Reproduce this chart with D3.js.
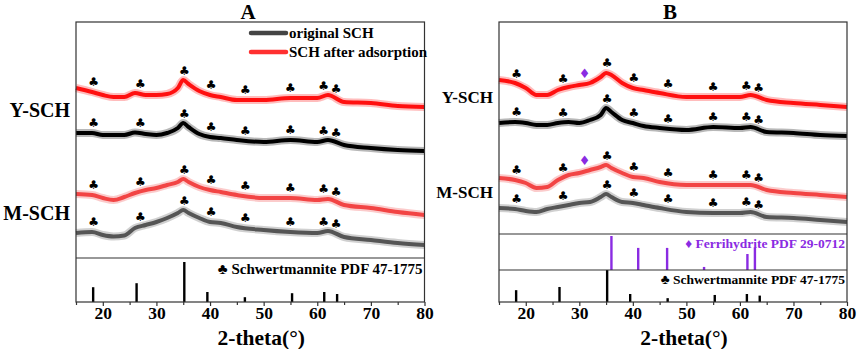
<!DOCTYPE html>
<html>
<head>
<meta charset="utf-8">
<script src="https://cdn.jsdelivr.net/npm/d3@7"></script>
<style>
  body { margin: 0; background: #fff; }
  svg text { font-family: "Liberation Serif", "Times New Roman", serif; font-weight: bold; }
</style>
</head>
<body>
<div id="container"></div>
<script>
let w = 858;
let h = 349;

// 2-theta sample points
const twoTheta = [15, 18, 20, 22, 24, 26, 28, 30, 32, 34, 35, 36, 38, 40, 42, 45, 50, 55, 60, 62, 65, 70, 75, 80];

// panel A intensities (a.u., offset stacked)
const aYAfter = [1700, 1660, 1630, 1610, 1610, 1650, 1630, 1630, 1640, 1700, 1780, 1740, 1670, 1630, 1610, 1580, 1580, 1600, 1600, 1630, 1560, 1550, 1520, 1510];
const aYOrig  = [1250, 1250, 1230, 1230, 1230, 1255, 1240, 1230, 1250, 1300, 1350, 1310, 1240, 1210, 1200, 1180, 1160, 1180, 1160, 1180, 1130, 1100, 1080, 1070];
const aMAfter = [640, 630, 600, 580, 610, 650, 680, 700, 730, 760, 790, 760, 710, 680, 660, 630, 600, 600, 580, 590, 530, 500, 460, 430];
const aMOrig  = [250, 260, 230, 215, 225, 300, 330, 360, 400, 450, 480, 450, 400, 360, 350, 310, 280, 260, 250, 270, 210, 180, 150, 130];

// panel B intensities
const bYAfter = [1540, 1510, 1460, 1390, 1390, 1440, 1470, 1490, 1510, 1570, 1610, 1590, 1510, 1460, 1440, 1410, 1370, 1370, 1370, 1390, 1340, 1310, 1290, 1270];
const bYOrig  = [1110, 1120, 1110, 1090, 1090, 1110, 1120, 1110, 1140, 1190, 1260, 1220, 1140, 1110, 1080, 1060, 1040, 1070, 1060, 1070, 1020, 1010, 990, 980];
const bMAfter = [560, 540, 510, 460, 470, 540, 590, 610, 640, 670, 690, 660, 610, 570, 560, 520, 490, 490, 490, 490, 440, 410, 390, 370];
const bMOrig  = [260, 250, 230, 220, 250, 270, 290, 310, 320, 370, 400, 370, 320, 310, 290, 260, 220, 210, 210, 220, 170, 160, 140, 120];

// reference patterns
const schPeaks = [18.2, 26.3, 35.2, 39.5, 46.5, 55.3, 61.3, 63.7];
const schRel   = [37, 47, 100, 25, 12, 22, 25, 20];
const ferPeaks = [36.0, 41.0, 46.4, 53.3, 61.4, 62.8];
const ferRel   = [100, 65, 65, 9, 47, 65];

// marker positions on the patterns
const clubPos = [18.3, 27.0, 35.2, 40.2, 46.6, 55.0, 61.2, 63.5];
const diamondPos = [31.0];

const majorTicks = [20, 30, 40, 50, 60, 70, 80];
const minorTicks = [15, 25, 35, 45, 55, 65, 75];
const sampleNames = ["Y-SCH", "M-SCH"];
const legendNames = ["original SCH", "SCH after adsorption"];
const schLabel = "\u2663 Schwertmannite PDF 47-1775";
const ferLabel = "\u2666 Ferrihydrite PDF 29-0712";

let purple = "#8a2be2";

let viz = d3.select("#container")
  .append("svg")
  .attr("width", w)
  .attr("height", h)
  .style("background-color", "white");

function interp(xs, ys, x){
  let i = d3.bisectRight(xs, x);
  if(i <= 0) return ys[0];
  if(i >= xs.length) return ys[ys.length - 1];
  let t = (x - xs[i-1]) / (xs[i] - xs[i-1]);
  return ys[i-1] + t * (ys[i] - ys[i-1]);
}

function drawPanel(p){
  let g = viz.append("g").attr("class", "panel");
  let xScale = d3.scaleLinear().domain([15, 80]).range([p.left, p.right]);
  let yScale = d3.scaleLinear().domain([0, (p.patBottom - p.top) * 10]).range([p.patBottom, p.top]);

  let line = d3.line()
    .x((d, i) => xScale(twoTheta[i]))
    .y(d => yScale(d))
    .curve(d3.curveMonotoneX);

  // traces: fuzzy band + core line
  p.series.forEach(function(s){
    g.append("path").attr("d", line(s.values))
      .attr("fill", "none").attr("stroke", s.color)
      .attr("stroke-width", 8).attr("stroke-opacity", 0.28);
    g.append("path").attr("d", line(s.values))
      .attr("fill", "none").attr("stroke", s.color)
      .attr("stroke-width", 4).attr("stroke-linejoin", "round");

    clubPos.forEach(function(c){
      g.append("text")
        .attr("x", xScale(c))
        .attr("y", yScale(interp(twoTheta, s.values, c)) - 10)
        .attr("text-anchor", "middle")
        .attr("dominant-baseline", "central")
        .style("font-family", "DejaVu Sans")
        .style("font-size", "12px")
        .attr("fill", "#000")
        .text("\u2663");
    });
    if(s.diamond){
      diamondPos.forEach(function(c){
        g.append("text")
          .attr("x", xScale(c))
          .attr("y", yScale(interp(twoTheta, s.values, c)) - 11)
          .attr("text-anchor", "middle")
          .attr("dominant-baseline", "central")
          .style("font-family", "DejaVu Sans")
          .style("font-size", "13px")
          .attr("fill", purple)
          .text("\u2666");
      });
    }
  });

  // stick patterns
  p.sticks.forEach(function(st){
    let sy = d3.scaleLinear().domain([0, 100]).range([st.base, st.top]);
    g.selectAll(null).data(st.pos).enter().append("line")
      .attr("x1", d => xScale(d)).attr("x2", d => xScale(d))
      .attr("y1", sy(0)).attr("y2", (d, i) => sy(st.rel[i]))
      .attr("stroke", st.color).attr("stroke-width", 2.4);
    g.append("text")
      .attr("x", p.right - 2).attr("y", st.labelY)
      .attr("text-anchor", "end")
      .style("font-size", st.fontSize)
      .attr("fill", st.color)
      .text(st.label);
  });

  // frame and separators
  g.append("rect")
    .attr("x", p.left).attr("y", p.top)
    .attr("width", p.right - p.left).attr("height", p.bottom - p.top)
    .attr("fill", "none").attr("stroke", "#333").attr("stroke-width", 1.2);
  p.seps.forEach(function(s){
    g.append("line").attr("x1", p.left).attr("x2", p.right)
      .attr("y1", s).attr("y2", s).attr("stroke", "#333").attr("stroke-width", 1.1);
  });

  // x axis
  let xAxisGroup = g.append("g").attr("transform", "translate(0," + p.bottom + ")");
  xAxisGroup.call(d3.axisBottom(xScale).tickValues(majorTicks).tickSize(4).tickPadding(1).tickFormat(d3.format("d")));
  let minorGroup = g.append("g").attr("transform", "translate(0," + p.bottom + ")");
  minorGroup.call(d3.axisBottom(xScale).tickValues(minorTicks).tickSize(3).tickFormat(""));
  g.selectAll(".domain").remove();
  g.selectAll(".tick line").attr("stroke", "#333").attr("stroke-width", 1.2);
  xAxisGroup.selectAll("text")
    .style("font-family", "Liberation Serif")
    .style("font-weight", "bold")
    .style("font-size", "17.5px")
    .attr("fill", "#000");

  g.append("text")
    .attr("x", (p.left + p.right) / 2 + 11).attr("y", 344.5)
    .attr("text-anchor", "middle")
    .style("font-size", "21.5px")
    .text("2-theta(\u00b0)");

  g.append("text")
    .attr("x", p.titleX).attr("y", 19)
    .attr("text-anchor", "middle")
    .style("font-size", "21px")
    .text(p.title);

  // sample names
  sampleNames.forEach(function(n, i){
    g.append("text")
      .attr("x", p.left - 6).attr("y", p.nameY[i])
      .attr("text-anchor", "end")
      .style("font-size", p.nameSize)
      .text(n);
  });
}

drawPanel({
  left: 76, right: 424.5, top: 22, patBottom: 258, bottom: 302,
  seps: [258], title: "A", titleX: 248,
  nameY: [117, 220], nameSize: "20px",
  series: [
    {values: aYAfter, color: "#ff1010"},
    {values: aYOrig, color: "#000"},
    {values: aMAfter, color: "#f24444"},
    {values: aMOrig, color: "#555"}
  ],
  sticks: [
    {pos: schPeaks, rel: schRel, base: 302, top: 262, color: "#000", label: schLabel, labelY: 274, fontSize: "15px"}
  ]
});

drawPanel({
  left: 499, right: 847, top: 22, patBottom: 234, bottom: 302,
  seps: [234, 270], title: "B", titleX: 670,
  nameY: [103, 198], nameSize: "17px",
  series: [
    {values: bYAfter, color: "#ff1010", diamond: true},
    {values: bYOrig, color: "#000"},
    {values: bMAfter, color: "#f24444", diamond: true},
    {values: bMOrig, color: "#555"}
  ],
  sticks: [
    {pos: ferPeaks, rel: ferRel, base: 270, top: 236, color: purple, label: ferLabel, labelY: 248, fontSize: "13.5px"},
    {pos: schPeaks, rel: schRel, base: 302, top: 270, color: "#000", label: schLabel, labelY: 284, fontSize: "13.5px"}
  ]
});

// legend in panel A
let legendColors = ["#444", "#ff3030"];
let legend = viz.append("g").attr("class", "legend");
legendNames.forEach(function(n, i){
  let ly = 33 + i * 19;
  legend.append("line")
    .attr("x1", 251).attr("x2", 286)
    .attr("y1", ly).attr("y2", ly)
    .attr("stroke", legendColors[i]).attr("stroke-width", 4.5)
    .attr("stroke-linecap", "round");
  legend.append("text")
    .attr("x", 289).attr("y", ly + 5)
    .style("font-size", "15px")
    .text(n);
});
</script>
</body>
</html>
